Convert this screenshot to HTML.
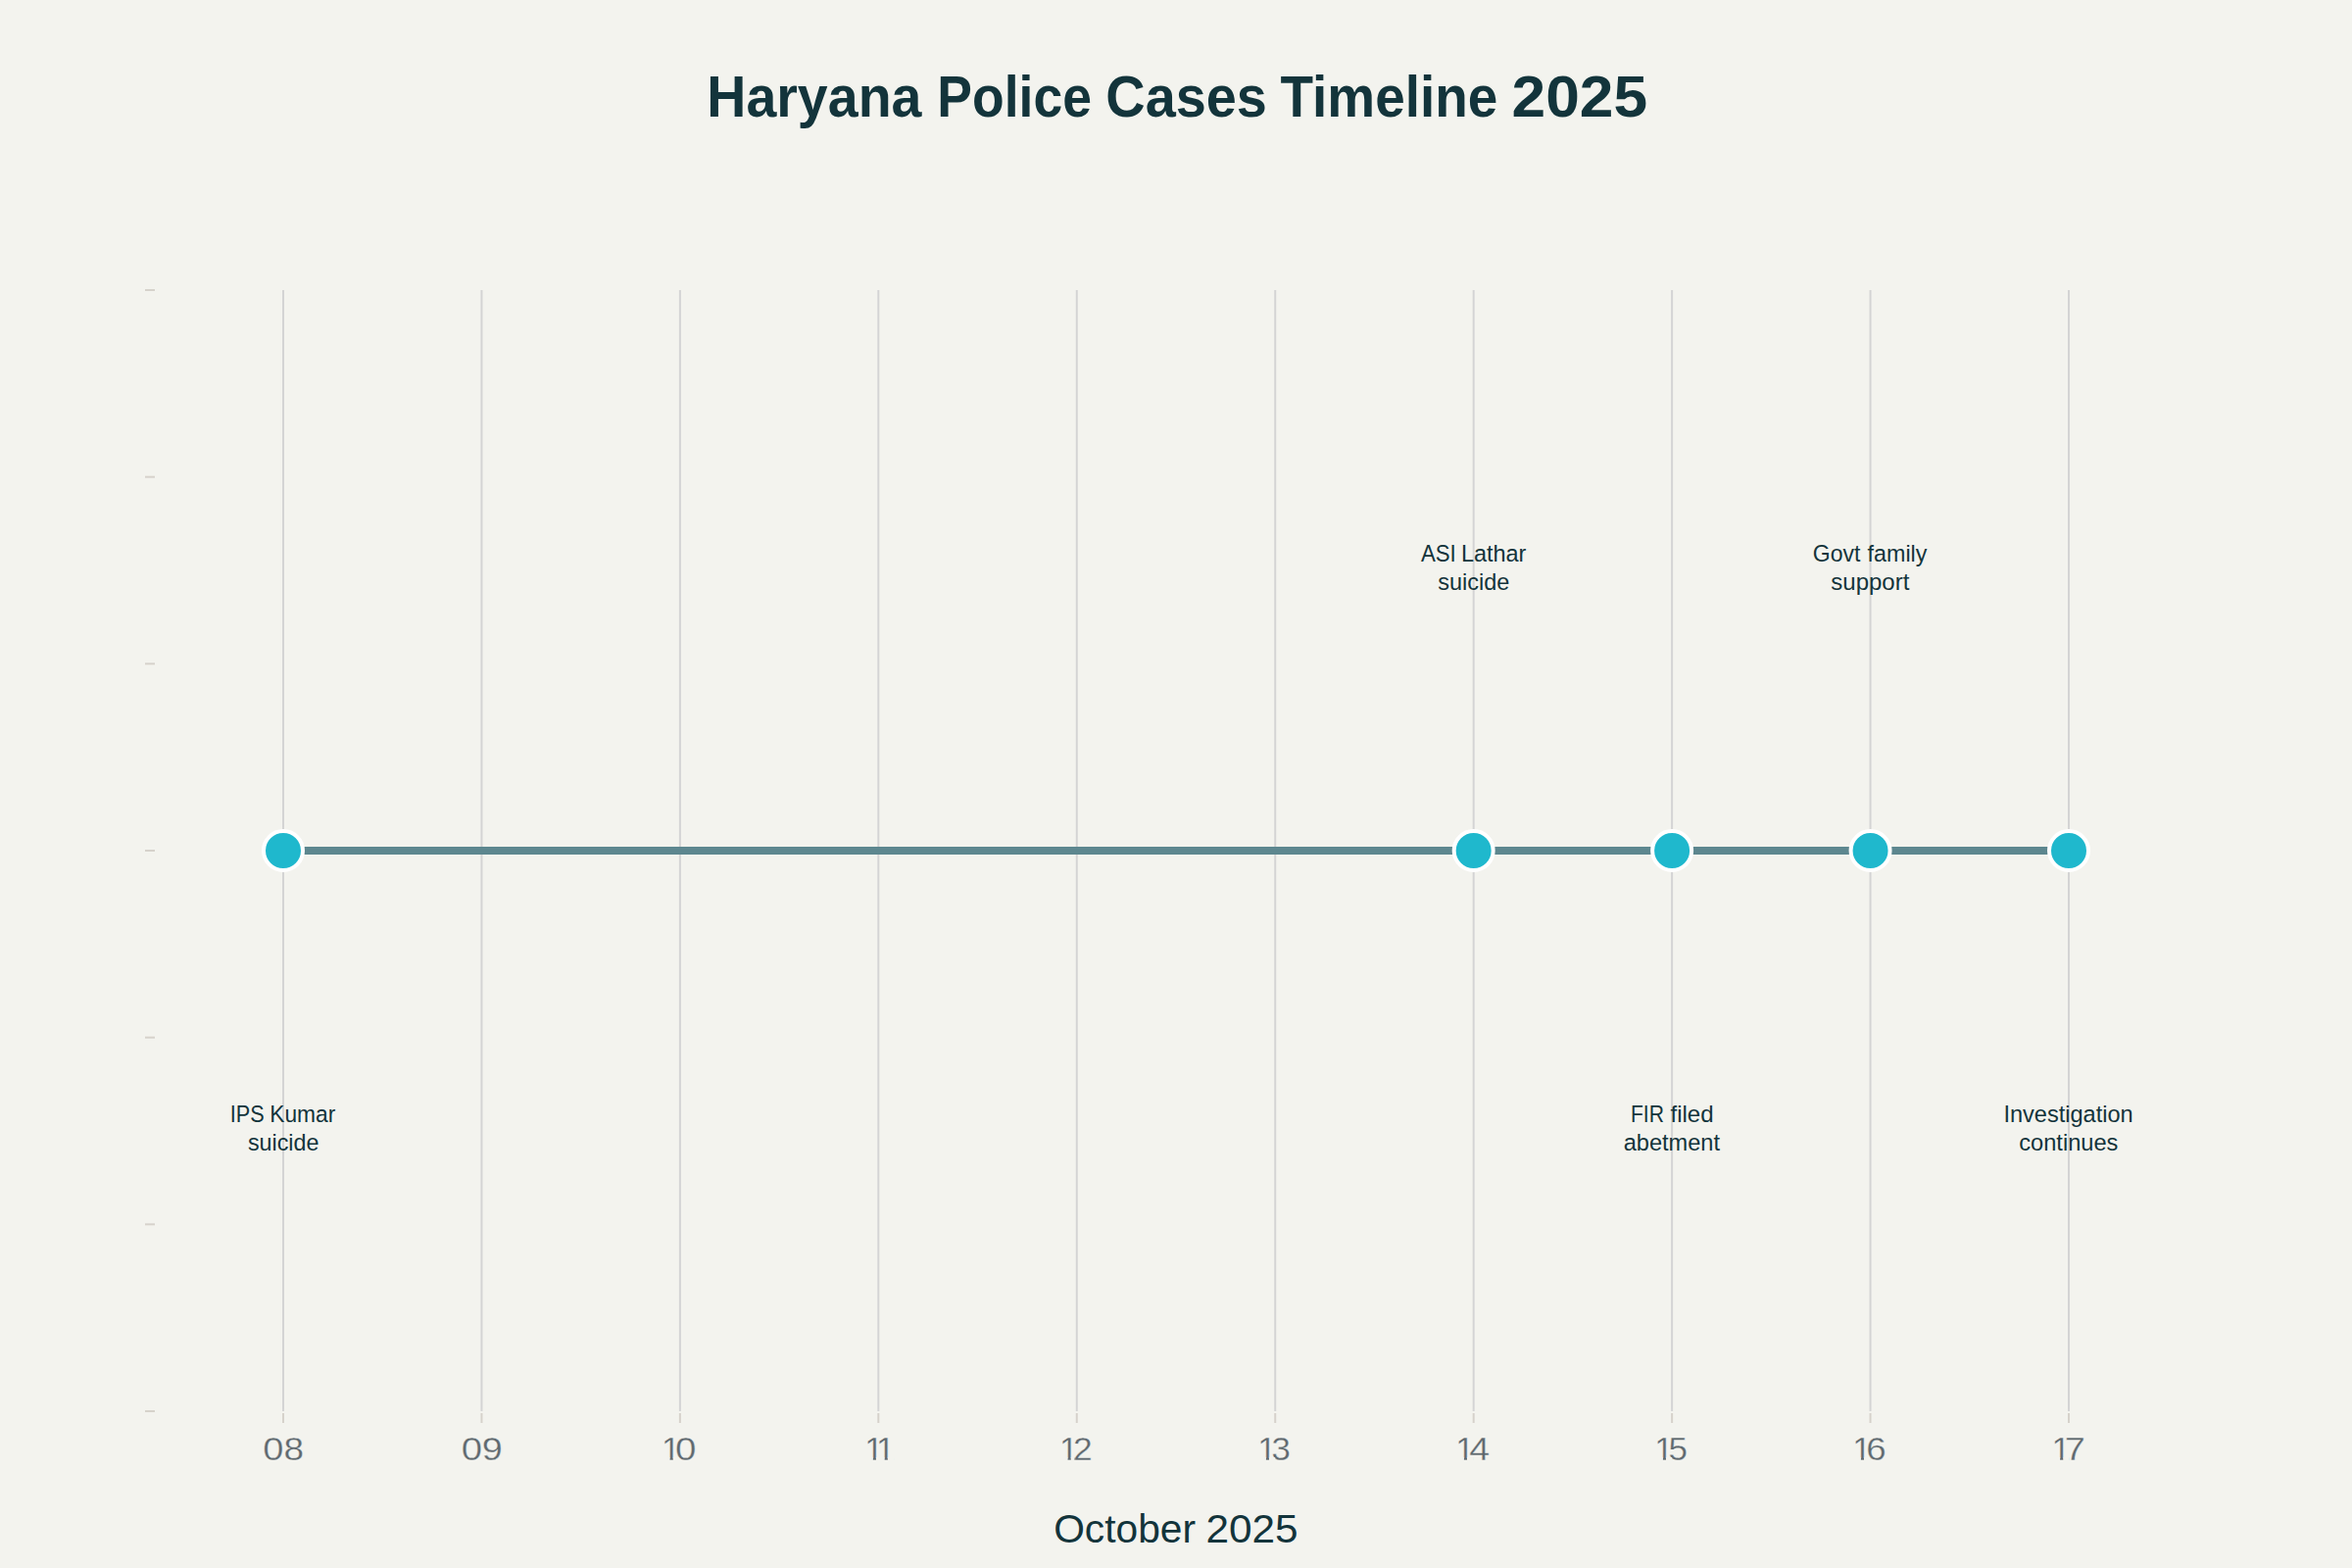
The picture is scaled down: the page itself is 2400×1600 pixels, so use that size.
<!DOCTYPE html>
<html lang="en"><head><meta charset="utf-8"><title>Haryana Police Cases Timeline 2025</title>
<style>html,body{margin:0;padding:0;background:#f3f3ee}body{width:2400px;height:1600px;overflow:hidden}svg{display:block}text{font-family:"Liberation Sans",Arial,Helvetica,sans-serif}</style></head><body>
<svg width="2400" height="1600" viewBox="0 0 2400 1600">
<rect width="2400" height="1600" fill="#f3f3ee"/>
<g fill="#d4d4d4">
<rect x="288.00" y="296" width="2" height="1144"/>
<rect x="490.44" y="296" width="2" height="1144"/>
<rect x="692.89" y="296" width="2" height="1144"/>
<rect x="895.33" y="296" width="2" height="1144"/>
<rect x="1097.78" y="296" width="2" height="1144"/>
<rect x="1300.22" y="296" width="2" height="1144"/>
<rect x="1502.67" y="296" width="2" height="1144"/>
<rect x="1705.11" y="296" width="2" height="1144"/>
<rect x="1907.56" y="296" width="2" height="1144"/>
<rect x="2110.00" y="296" width="2" height="1144"/>
</g>
<g fill="#d6d2cb">
<rect x="288.00" y="1442" width="2" height="10"/>
<rect x="490.44" y="1442" width="2" height="10"/>
<rect x="692.89" y="1442" width="2" height="10"/>
<rect x="895.33" y="1442" width="2" height="10"/>
<rect x="1097.78" y="1442" width="2" height="10"/>
<rect x="1300.22" y="1442" width="2" height="10"/>
<rect x="1502.67" y="1442" width="2" height="10"/>
<rect x="1705.11" y="1442" width="2" height="10"/>
<rect x="1907.56" y="1442" width="2" height="10"/>
<rect x="2110.00" y="1442" width="2" height="10"/>
<rect x="148" y="295.00" width="10" height="2"/>
<rect x="148" y="485.67" width="10" height="2"/>
<rect x="148" y="676.33" width="10" height="2"/>
<rect x="148" y="867.00" width="10" height="2"/>
<rect x="148" y="1057.67" width="10" height="2"/>
<rect x="148" y="1248.33" width="10" height="2"/>
<rect x="148" y="1439.00" width="10" height="2"/>
</g>
<rect x="289" y="864" width="1822" height="8" fill="#5d878f"/>
<g fill="#1fb8cd" stroke="#ffffff" stroke-width="4">
<circle cx="289.00" cy="868" r="20"/>
<circle cx="1503.67" cy="868" r="20"/>
<circle cx="1706.11" cy="868" r="20"/>
<circle cx="1908.56" cy="868" r="20"/>
<circle cx="2111.00" cy="868" r="20"/>
</g>
<defs><clipPath id="tk"><rect x="0" y="1455" width="2400" height="32.01"/><rect x="0.00" y="1487.00" width="675.86" height="12"/><rect x="683.68" y="1487.00" width="3.03" height="12"/><rect x="692.97" y="1487.00" width="190.10" height="12"/><rect x="890.88" y="1487.00" width="3.03" height="12"/><rect x="894.91" y="1487.00" width="0.00" height="12"/><rect x="902.73" y="1487.00" width="3.03" height="12"/><rect x="912.02" y="1487.00" width="169.80" height="12"/><rect x="1089.63" y="1487.00" width="3.03" height="12"/><rect x="1096.50" y="1487.00" width="187.61" height="12"/><rect x="1291.93" y="1487.00" width="3.03" height="12"/><rect x="1301.22" y="1487.00" width="184.90" height="12"/><rect x="1493.93" y="1487.00" width="3.03" height="12"/><rect x="1503.22" y="1487.00" width="185.90" height="12"/><rect x="1696.93" y="1487.00" width="3.03" height="12"/><rect x="1706.22" y="1487.00" width="184.90" height="12"/><rect x="1898.93" y="1487.00" width="3.03" height="12"/><rect x="1908.22" y="1487.00" width="186.15" height="12"/><rect x="2102.18" y="1487.00" width="3.03" height="12"/><rect x="2111.47" y="1487.00" width="288.53" height="12"/></clipPath></defs>
<g>
<!-- chart title -->
<text y="119.10" font-size="59.50" font-weight="700" fill="#13343b"><tspan x="721.29" textLength="219.15" lengthAdjust="spacingAndGlyphs">Haryana</tspan> <tspan x="956.32" textLength="157.73" lengthAdjust="spacingAndGlyphs">Police</tspan> <tspan x="1128.37" textLength="164.49" lengthAdjust="spacingAndGlyphs">Cases</tspan> <tspan x="1306.55" textLength="221.79" lengthAdjust="spacingAndGlyphs">Timeline</tspan> <tspan x="1542.53" textLength="138.60" lengthAdjust="spacingAndGlyphs">2025</tspan></text>
<!-- x axis tick labels -->
<g font-size="32.70" fill="#5e686e" stroke="#f3f3ee" stroke-width="0.3" clip-path="url(#tk)">
<text y="1489.80"><tspan x="268.36" textLength="21.21" lengthAdjust="spacingAndGlyphs">0</tspan><tspan x="289.53" textLength="20.49" lengthAdjust="spacingAndGlyphs">8</tspan></text>
<text y="1489.80"><tspan x="470.66" textLength="21.33" lengthAdjust="spacingAndGlyphs">0</tspan><tspan x="491.70" textLength="21.05" lengthAdjust="spacingAndGlyphs">9</tspan></text>
<text y="1489.80"><tspan x="675.05" textLength="19.10" lengthAdjust="spacingAndGlyphs">1</tspan><tspan x="688.95" textLength="21.44" lengthAdjust="spacingAndGlyphs">0</tspan></text>
<text y="1489.80"><tspan x="882.25" textLength="19.10" lengthAdjust="spacingAndGlyphs">1</tspan><tspan x="894.10" textLength="19.10" lengthAdjust="spacingAndGlyphs">1</tspan></text>
<text y="1489.80"><tspan x="1081.00" textLength="19.10" lengthAdjust="spacingAndGlyphs">1</tspan><tspan x="1094.93" textLength="19.71" lengthAdjust="spacingAndGlyphs">2</tspan></text>
<text y="1489.80"><tspan x="1283.30" textLength="19.10" lengthAdjust="spacingAndGlyphs">1</tspan><tspan x="1297.48" textLength="19.35" lengthAdjust="spacingAndGlyphs">3</tspan></text>
<text y="1489.80"><tspan x="1485.30" textLength="19.10" lengthAdjust="spacingAndGlyphs">1</tspan><tspan x="1499.15" textLength="20.88" lengthAdjust="spacingAndGlyphs">4</tspan></text>
<text y="1489.80"><tspan x="1688.30" textLength="19.10" lengthAdjust="spacingAndGlyphs">1</tspan><tspan x="1702.40" textLength="19.44" lengthAdjust="spacingAndGlyphs">5</tspan></text>
<text y="1489.80"><tspan x="1890.30" textLength="19.10" lengthAdjust="spacingAndGlyphs">1</tspan><tspan x="1904.27" textLength="20.39" lengthAdjust="spacingAndGlyphs">6</tspan></text>
<text y="1489.80"><tspan x="2093.55" textLength="19.10" lengthAdjust="spacingAndGlyphs">1</tspan><tspan x="2106.65" textLength="21.10" lengthAdjust="spacingAndGlyphs">7</tspan></text>
</g>
<!-- event labels -->
<g font-size="24.30" fill="#13343b">
<text y="573.00"><tspan x="1449.95" textLength="35.79" lengthAdjust="spacingAndGlyphs">ASI</tspan> <tspan x="1490.92" textLength="66.54" lengthAdjust="spacingAndGlyphs">Lathar</tspan></text>
<text y="601.70"><tspan x="1467.21" textLength="73.09" lengthAdjust="spacingAndGlyphs">suicide</tspan></text>
<text y="573.00"><tspan x="1849.80" textLength="48.56" lengthAdjust="spacingAndGlyphs">Govt</tspan> <tspan x="1905.62" textLength="60.81" lengthAdjust="spacingAndGlyphs">family</tspan></text>
<text y="601.70"><tspan x="1868.30" textLength="80.03" lengthAdjust="spacingAndGlyphs">support</tspan></text>
<text y="1144.90"><tspan x="234.75" textLength="34.96" lengthAdjust="spacingAndGlyphs">IPS</tspan> <tspan x="275.28" textLength="67.07" lengthAdjust="spacingAndGlyphs">Kumar</tspan></text>
<text y="1173.60"><tspan x="252.92" textLength="72.58" lengthAdjust="spacingAndGlyphs">suicide</tspan></text>
<text y="1144.90"><tspan x="1664.01" textLength="33.95" lengthAdjust="spacingAndGlyphs">FIR</tspan> <tspan x="1704.46" textLength="44.09" lengthAdjust="spacingAndGlyphs">filed</tspan></text>
<text y="1173.60"><tspan x="1656.66" textLength="98.35" lengthAdjust="spacingAndGlyphs">abetment</tspan></text>
<text y="1144.90"><tspan x="2044.38" textLength="132.35" lengthAdjust="spacingAndGlyphs">Investigation</tspan></text>
<text y="1173.60"><tspan x="2060.25" textLength="101.19" lengthAdjust="spacingAndGlyphs">continues</tspan></text>
</g>
<!-- x axis title -->
<text y="1573.50" font-size="40.30" fill="#13343b"><tspan x="1075.17" textLength="144.93" lengthAdjust="spacingAndGlyphs">October</tspan> <tspan x="1230.53" textLength="94.14" lengthAdjust="spacingAndGlyphs">2025</tspan></text>
</g>
</svg></body></html>
